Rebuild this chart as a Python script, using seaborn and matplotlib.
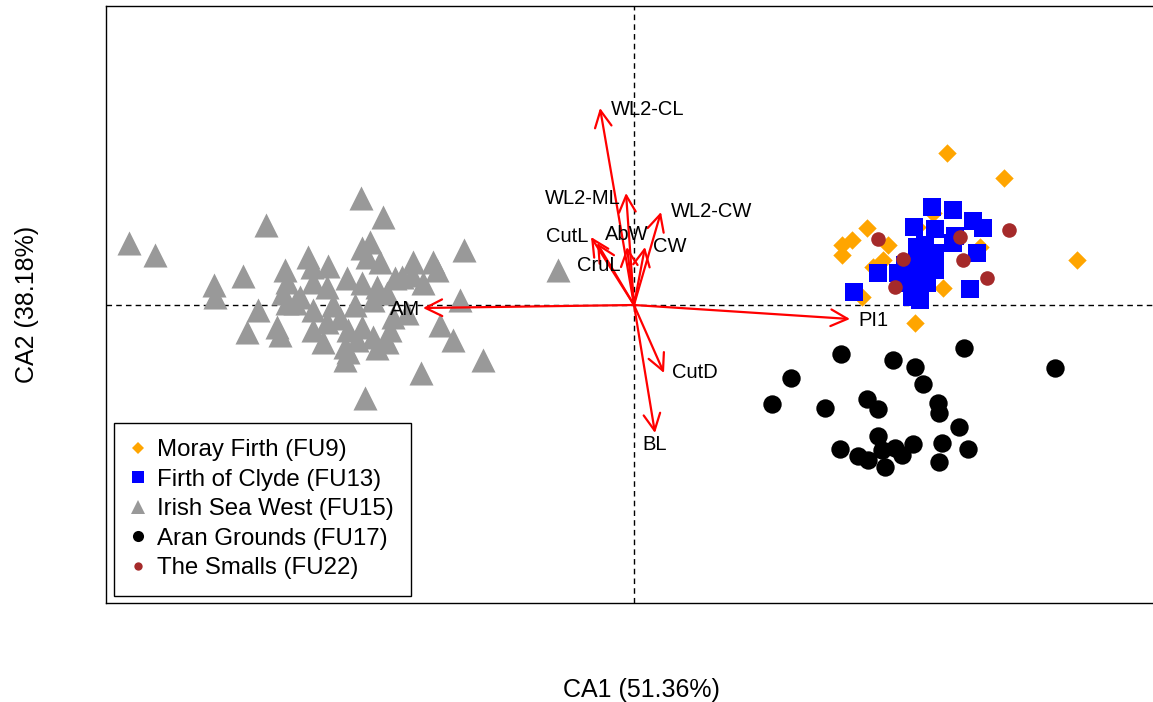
import matplotlib
matplotlib.use("Agg")
import matplotlib.pyplot as plt
from matplotlib.lines import Line2D
import seaborn as sns
import pandas as pd

# ---- data (CA scores) ----
moray_x = [3.13, 3.70, 4.43, 2.33, 2.18, 2.08, 2.08, 2.54, 2.49, 2.39, 3.09, 2.81, 2.28, 3.46, 3.19, 2.79, 2.99, 2.83]
moray_y = [1.52, 1.27, 0.45, 0.77, 0.65, 0.60, 0.50, 0.60, 0.45, 0.38, 0.17, -0.18, 0.08, 0.58, 0.65, 0.28, 0.92, 0.78]

clyde_x = [2.98, 3.19, 3.39, 3.49, 2.80, 3.01, 3.21, 3.19, 3.43, 2.83, 2.83, 2.96, 2.44, 2.64, 2.93, 2.78, 3.36,
           2.20, 2.78, 2.86, 3.01, 2.91, 2.71, 3.01, 2.86, 2.71]
clyde_y = [0.98, 0.95, 0.84, 0.77, 0.78, 0.76, 0.69, 0.62, 0.52, 0.58, 0.48, 0.42, 0.32, 0.32, 0.22, 0.18, 0.16,
           0.13, 0.08, 0.35, 0.52, 0.60, 0.40, 0.35, 0.05, 0.22]

irish_x = [-5.05, -4.79, -3.68, -2.73, -2.51, -4.20, -4.19, -3.91, -3.49, -3.47, -3.26, -3.22, -3.06,
           -2.64, -2.72, -2.54, -2.67, -2.21, -2.01, -1.97, -1.70, -2.32, -2.11, -3.51, -3.47, -3.76,
           -3.87, -3.57, -3.54, -1.74, -1.94, -1.81, -1.51, -2.13, -2.69, -2.89, -2.86, -2.87, -3.21,
           -2.72, -2.57, -2.39, -2.22, -3.07, -3.39, -3.21, -3.01, -2.79, -2.61, -2.47, -3.21, -3.07,
           -2.86, -2.72, -2.61, -2.47, -3.11, -2.89, -2.77, -2.57, -2.41, -2.27, -2.44, -0.76, -3.34, -2.94]
irish_y = [0.62, 0.50, 0.80, 1.07, 0.88, 0.20, 0.08, 0.29, 0.35, 0.23, 0.48, 0.38, 0.39,
           0.63, 0.57, 0.43, 0.48, 0.43, 0.43, 0.35, 0.55, 0.28, 0.22, 0.12, 0.02, -0.05,
           -0.27, -0.22, -0.30, 0.05, -0.20, -0.35, -0.55, -0.68, -0.93, -0.55, -0.47, 0.27, 0.23,
           0.22, 0.18, 0.27, 0.30, 0.18, 0.02, -0.05, 0.00, 0.00, 0.05, 0.12, -0.25, -0.17,
           -0.25, -0.22, -0.32, -0.37, -0.37, -0.42, -0.35, -0.43, -0.12, -0.08, -0.25, 0.35, 0.08, -0.13]

aran_x = [2.07, 2.59, 2.81, 2.89, 3.30, 4.21, 1.57, 1.38, 1.91, 2.33, 2.44, 3.04, 3.05, 3.25, 2.44,
          2.06, 2.24, 2.34, 2.51, 2.48, 2.61, 2.68, 2.79, 3.08, 3.34, 3.05]
aran_y = [-0.49, -0.55, -0.62, -0.79, -0.43, -0.63, -0.73, -0.99, -1.03, -0.94, -1.04, -0.98, -1.08, -1.22, -1.31,
          -1.44, -1.51, -1.55, -1.62, -1.45, -1.43, -1.50, -1.39, -1.38, -1.44, -1.57]

smalls_x = [2.44, 3.26, 3.75, 2.69, 3.29, 3.53, 2.61]
smalls_y = [0.66, 0.68, 0.75, 0.46, 0.45, 0.27, 0.18]

# variable arrows (CA loadings)
var_names = ["WL2-CL", "WL2-ML", "WL2-CW", "CutL", "AbW", "CruL", "CW", "CutD", "BL", "AM", "PI1"]
var_x = [-0.34, -0.08, 0.27, -0.43, -0.07, -0.37, 0.11, 0.30, 0.21, -2.11, 2.16]
var_y = [1.97, 1.12, 0.93, 0.68, 0.58, 0.62, 0.58, -0.68, -1.28, -0.03, -0.14]

group_names = ["Moray Firth (FU9)", "Firth of Clyde (FU13)", "Irish Sea West (FU15)",
               "Aran Grounds (FU17)", "The Smalls (FU22)"]

# ---- styles ----
group_colors = ["#FFA500", "#0000FF", "#999999", "#000000", "#A52A2A"]
group_markers = ["D", "s", "^", "o", "o"]
group_sizes = [88, 175, 300, 175, 110]
legend_sizes = [6.5, 9, 10, 8, 6]

label_style = {  # offset in points, alignment
    "WL2-CL": ((8, -1), "left"),
    "WL2-ML": ((-4, -4), "right"),
    "WL2-CW": ((7, 0), "left"),
    "CutL": ((-2, 0), "right"),
    "AbW": ((0, 9), "center"),
    "CruL": ((1, -16), "center"),
    "CW": ((6, 0), "left"),
    "CutD": ((6, 0), "left"),
    "BL": ((0, -8), "center"),
    "AM": ((-2, -1), "right"),
    "PI1": ((6, -1), "left"),
}

sns.set_style("white")
plt.rcParams["font.family"] = ["Liberation Sans", "DejaVu Sans"]
plt.rcParams["text.color"] = "black"
plt.rcParams["axes.labelcolor"] = "black"

W, H = 1153, 702
fig = plt.figure(figsize=(W / 100, H / 100), dpi=100)
ax = fig.add_axes([106 / W, 1 - 603 / H, (1176 - 106) / W, (603 - 6) / H])

xs = [moray_x, clyde_x, irish_x, aran_x, smalls_x]
ys = [moray_y, clyde_y, irish_y, aran_y, smalls_y]
for gx, gy, c, m, s in zip(xs, ys, group_colors, group_markers, group_sizes):
    df = pd.DataFrame({"CA1": gx, "CA2": gy})
    sns.scatterplot(data=df, x="CA1", y="CA2", marker=m, s=s, color=c,
                    linewidth=0, ax=ax, legend=False, zorder=3)

ax.axhline(0, color="black", lw=1, ls=(0, (4, 3)), zorder=2)
ax.axvline(0, color="black", lw=1, ls=(0, (4, 3)), zorder=2)

for name, vx, vy in zip(var_names, var_x, var_y):
    ax.annotate("", xy=(vx, vy), xytext=(0, 0),
                arrowprops=dict(arrowstyle="->,head_length=1.2,head_width=0.6",
                                color="red", lw=1.6, shrinkA=0, shrinkB=0,
                                mutation_scale=10),
                zorder=5)
    off, ha = label_style[name]
    ax.annotate(name, xy=(vx, vy), xytext=off, textcoords="offset points",
                ha=ha, va="center", fontsize=14.5, color="black", zorder=6)

ax.set_xlim(-5.28, 5.42)
ax.set_ylim(-2.98, 2.99)
ax.set_xticks([])
ax.set_yticks([])
for sp in ax.spines.values():
    sp.set_color("black")
    sp.set_linewidth(1.0)
    sp.set_visible(True)

ax.set_xlabel("CA1 (51.36%)", fontsize=18, labelpad=54)
ax.set_ylabel("CA2 (38.18%)", fontsize=18, labelpad=48)

handles = [Line2D([0], [0], marker=m, color="none", markerfacecolor=c, markeredgewidth=0,
                  markersize=ms, label=n)
           for n, c, m, ms in zip(group_names, group_colors, group_markers, legend_sizes)]
leg = ax.legend(handles=handles, loc="lower left", bbox_to_anchor=(114 / W, 1 - 596 / H),
                bbox_transform=fig.transFigure, fontsize=17.3, frameon=True, fancybox=False,
                framealpha=1, edgecolor="black", handlelength=0.6, handletextpad=0.5,
                labelspacing=0.31, borderpad=0.7, borderaxespad=0)
leg.get_frame().set_linewidth(1.0)
for t in leg.get_texts():
    t.set_color("black")

fig.savefig("out.png", dpi=100)
